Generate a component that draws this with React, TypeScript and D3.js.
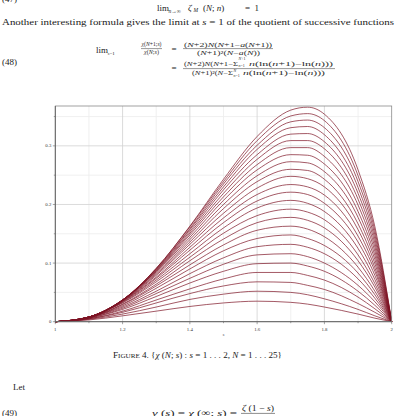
import React from 'react';
import * as d3 from 'd3';

// s positions at which each curve value was read
const sGrid = [1, 1.1, 1.2, 1.3, 1.4, 1.5, 1.6, 1.7, 1.75, 1.8, 1.9, 1.95, 2];

// chi(N; s), N = 1 ... 25 (one row per N)
const chiCurves: number[][] = [
  [0, 0.003, 0.010, 0.018, 0.026, 0.032, 0.035, 0.033, 0.030, 0.025, 0.013, 0.006, 0],
  [0, 0.004, 0.013, 0.025, 0.038, 0.047, 0.052, 0.050, 0.046, 0.039, 0.021, 0.010, 0],
  [0, 0.005, 0.016, 0.032, 0.048, 0.061, 0.068, 0.067, 0.062, 0.055, 0.031, 0.016, 0],
  [0, 0.005, 0.018, 0.037, 0.056, 0.073, 0.084, 0.084, 0.079, 0.071, 0.042, 0.022, 0],
  [0, 0.006, 0.021, 0.043, 0.066, 0.086, 0.099, 0.100, 0.095, 0.086, 0.052, 0.028, 0],
  [0, 0.006, 0.023, 0.048, 0.074, 0.098, 0.114, 0.116, 0.111, 0.100, 0.062, 0.034, 0],
  [0, 0.007, 0.025, 0.052, 0.082, 0.109, 0.128, 0.132, 0.127, 0.116, 0.073, 0.040, 0],
  [0, 0.007, 0.027, 0.057, 0.090, 0.121, 0.142, 0.148, 0.142, 0.130, 0.083, 0.046, 0],
  [0, 0.007, 0.029, 0.061, 0.097, 0.131, 0.156, 0.163, 0.158, 0.145, 0.093, 0.052, 0],
  [0, 0.007, 0.030, 0.064, 0.104, 0.141, 0.169, 0.178, 0.173, 0.160, 0.104, 0.059, 0],
  [0, 0.008, 0.032, 0.068, 0.110, 0.151, 0.181, 0.192, 0.187, 0.174, 0.114, 0.065, 0],
  [0, 0.008, 0.033, 0.071, 0.116, 0.160, 0.194, 0.207, 0.202, 0.188, 0.125, 0.072, 0],
  [0, 0.008, 0.034, 0.074, 0.122, 0.169, 0.206, 0.221, 0.217, 0.202, 0.136, 0.079, 0],
  [0, 0.008, 0.035, 0.076, 0.127, 0.177, 0.217, 0.234, 0.230, 0.216, 0.146, 0.086, 0],
  [0, 0.008, 0.035, 0.079, 0.132, 0.185, 0.228, 0.248, 0.244, 0.230, 0.157, 0.092, 0],
  [0, 0.008, 0.036, 0.081, 0.136, 0.193, 0.239, 0.260, 0.258, 0.243, 0.167, 0.099, 0],
  [0, 0.008, 0.036, 0.083, 0.140, 0.200, 0.249, 0.273, 0.271, 0.256, 0.178, 0.106, 0],
  [0, 0.008, 0.037, 0.085, 0.144, 0.207, 0.259, 0.285, 0.284, 0.269, 0.188, 0.113, 0],
  [0, 0.008, 0.037, 0.086, 0.148, 0.213, 0.268, 0.297, 0.297, 0.282, 0.199, 0.120, 0],
  [0, 0.008, 0.037, 0.087, 0.151, 0.219, 0.277, 0.309, 0.309, 0.295, 0.209, 0.127, 0],
  [0, 0.008, 0.037, 0.088, 0.154, 0.225, 0.285, 0.320, 0.321, 0.307, 0.219, 0.134, 0],
  [0, 0.008, 0.037, 0.089, 0.157, 0.230, 0.294, 0.331, 0.333, 0.319, 0.229, 0.141, 0],
  [0, 0.008, 0.037, 0.090, 0.159, 0.235, 0.301, 0.341, 0.344, 0.331, 0.239, 0.148, 0],
  [0, 0.007, 0.037, 0.091, 0.162, 0.239, 0.309, 0.351, 0.355, 0.343, 0.249, 0.155, 0],
  [0, 0.007, 0.037, 0.091, 0.163, 0.243, 0.316, 0.361, 0.366, 0.354, 0.259, 0.162, 0],
];

const xTicks = [1, 1.2, 1.4, 1.6, 1.8, 2];
const xTickLabels = ['1', '1.2', '1.4', '1.6', '1.8', '2'];
const xMinor = [1.1, 1.3, 1.5, 1.7, 1.9];
const yTicks = [0, 0.1, 0.2, 0.3];
const yTickLabels = ['0', '0.1', '0.2', '0.3'];
const yMinor = [0.05, 0.15, 0.25, 0.35];

const SERIF = '"Liberation Serif", "DejaVu Serif", serif';
const INK = '#1a1a1a';
const SMALL = '#2a2a2a';

export default function App() {
  const x = d3.scaleLinear().domain([1, 2]).range([55.3, 391.7]);
  const y = d3.scaleLinear().domain([0, 0.368]).range([321.7, 106]);
  const line = d3
    .line<number>()
    .x((_, i) => x(sGrid[i]))
    .y((d) => y(d))
    .curve(d3.curveMonotoneX);

  const x0 = x(1), x1 = x(2), y0 = y(0), y1 = y(0.368);
  const it = { fontStyle: 'italic' as const };

  return (
    <svg
      width={398}
      height={416}
      viewBox="0 0 398 416"
      style={{ position: 'fixed', left: 0, top: 0, background: '#fff' }}
      fontFamily={SERIF}
      fill={INK}
    >
      <rect x={0} y={0} width={398} height={416} fill="#fff" />

      {/* ---- text above the figure ---- */}
      <text x={2} y={2} fontSize={9}>(47)</text>
      <text x={157} y={10.5} fontSize={9}>lim</text>
      <text x={168.5} y={12.5} fontSize={5.5}><tspan {...it}>n</tspan>→∞</text>
      <text x={188} y={10.5} fontSize={9} {...it}>ζ</text>
      <text x={193.5} y={12} fontSize={5.5} {...it}>M</text>
      <text x={203} y={10.5} fontSize={9}>(<tspan {...it}>N</tspan>; <tspan {...it}>n</tspan>)</text>
      <text x={245} y={10.5} fontSize={9}>=</text>
      <text x={254.5} y={10.5} fontSize={9}>1</text>

      <text x={2} y={24.5} fontSize={9} textLength={392} lengthAdjust="spacingAndGlyphs">
        Another interesting formula gives the limit at <tspan {...it}>s</tspan> = 1 of the quotient of successive functions
      </text>

      {/* equation (48) */}
      <text x={2} y={64.5} fontSize={9}>(48)</text>
      <text x={96} y={52.5} fontSize={9}>lim</text>
      <text x={107.5} y={54.8} fontSize={5}><tspan {...it}>s</tspan>=1</text>
      <text x={141.5} y={46.3} fontSize={6} fill={SMALL} textLength={20} lengthAdjust="spacingAndGlyphs">
        <tspan {...it}>χ</tspan>(<tspan {...it}>N</tspan>+1;<tspan {...it}>s</tspan>)
      </text>
      <line x1={141} x2={162} y1={48.6} y2={48.6} stroke={INK} strokeWidth={0.45} />
      <text x={144} y={54.4} fontSize={6} fill={SMALL} textLength={15} lengthAdjust="spacingAndGlyphs">
        <tspan {...it}>χ</tspan>(<tspan {...it}>N</tspan>;<tspan {...it}>s</tspan>)
      </text>

      <text x={171.5} y={52} fontSize={9}>=</text>
      <text x={184} y={46.5} fontSize={6} fill={SMALL} textLength={88} lengthAdjust="spacingAndGlyphs">
        (<tspan {...it}>N</tspan>+2)<tspan {...it}>N</tspan>(<tspan {...it}>N</tspan>+1−<tspan {...it}>a</tspan>(<tspan {...it}>N</tspan>+1))
      </text>
      <line x1={183} x2={273} y1={48.6} y2={48.6} stroke={INK} strokeWidth={0.45} />
      <text x={197} y={55} fontSize={6} fill={SMALL} textLength={63} lengthAdjust="spacingAndGlyphs">
        (<tspan {...it}>N</tspan>+1)²(<tspan {...it}>N</tspan>−<tspan {...it}>a</tspan>(<tspan {...it}>N</tspan>))
      </text>

      <text x={171.5} y={71.2} fontSize={9}>=</text>
      <text x={184} y={65.6} fontSize={6} fill={SMALL} textLength={54} lengthAdjust="spacingAndGlyphs">
        (<tspan {...it}>N</tspan>+2)<tspan {...it}>N</tspan>(<tspan {...it}>N</tspan>+1−Σ
      </text>
      <text x={238.5} y={60.2} fontSize={4} fill={SMALL}><tspan {...it}>N</tspan>+1</text>
      <text x={238.5} y={67.4} fontSize={4} fill={SMALL}><tspan {...it}>n</tspan>=1</text>
      <text x={249} y={65.6} fontSize={6} fill={SMALL} textLength={84} lengthAdjust="spacingAndGlyphs">
        <tspan {...it}>n</tspan>(ln(<tspan {...it}>n</tspan>+1)−ln(<tspan {...it}>n</tspan>)))
      </text>
      <line x1={183} x2={335} y1={68.6} y2={68.6} stroke={INK} strokeWidth={0.45} />
      <text x={192} y={75.2} fontSize={6} fill={SMALL} textLength={41} lengthAdjust="spacingAndGlyphs">
        (<tspan {...it}>N</tspan>+1)²(<tspan {...it}>N</tspan>−Σ
      </text>
      <text x={233.5} y={71.6} fontSize={4} fill={SMALL} {...it}>N</text>
      <text x={233.5} y={77} fontSize={4} fill={SMALL}><tspan {...it}>n</tspan>=1</text>
      <text x={243} y={75.2} fontSize={6} fill={SMALL} textLength={82} lengthAdjust="spacingAndGlyphs">
        <tspan {...it}>n</tspan>(ln(<tspan {...it}>n</tspan>+1)−ln(<tspan {...it}>n</tspan>)))
      </text>

      {/* ---- chart ---- */}
      <g>
        {xMinor.map((v) => (
          <line key={'xm' + v} x1={x(v)} x2={x(v)} y1={y0} y2={y1} stroke="#ececec" strokeWidth={0.8} />
        ))}
        {yMinor.map((v) => (
          <line key={'ym' + v} x1={x0} x2={x1} y1={y(v)} y2={y(v)} stroke="#ececec" strokeWidth={0.8} />
        ))}
        {xTicks.slice(1, -1).map((v) => (
          <line key={'xg' + v} x1={x(v)} x2={x(v)} y1={y0} y2={y1} stroke="#d2d2d2" strokeWidth={0.8} />
        ))}
        {yTicks.slice(1).map((v) => (
          <line key={'yg' + v} x1={x0} x2={x1} y1={y(v)} y2={y(v)} stroke="#d2d2d2" strokeWidth={0.8} />
        ))}

        {chiCurves.map((row, i) => (
          <path key={'c' + i} d={line(row) || ''} fill="none" stroke="#7c1224" strokeWidth={0.7} />
        ))}

        <rect x={x0} y={y1} width={x1 - x0} height={y0 - y1} fill="none" stroke="#8a8a8a" strokeWidth={0.8} />
        <line x1={x0} x2={x1} y1={y0} y2={y0} stroke="#666" strokeWidth={1} />
        <line x1={x0} x2={x0} y1={y0} y2={y1} stroke="#666" strokeWidth={1} />

        {yTicks.map((v, i) => (
          <g key={'yt' + v}>
            <line x1={x0 - 2.5} x2={x0} y1={y(v)} y2={y(v)} stroke="#666" strokeWidth={0.6} />
            <text x={x0 - 4} y={y(v) + 1.6} fontSize={4.8} textAnchor="end" fill="#333">{yTickLabels[i]}</text>
          </g>
        ))}
        {yMinor.map((v) => (
          <line key={'ymt' + v} x1={x0 - 1.5} x2={x0} y1={y(v)} y2={y(v)} stroke="#666" strokeWidth={0.6} />
        ))}
        {xTicks.map((v, i) => (
          <g key={'xt' + v}>
            <line x1={x(v)} x2={x(v)} y1={y0} y2={y0 + 2.5} stroke="#666" strokeWidth={0.6} />
            <text x={x(v)} y={y0 + 9.3} fontSize={4.8} textAnchor="middle" fill="#333">{xTickLabels[i]}</text>
          </g>
        ))}
        {xMinor.map((v) => (
          <line key={'xmt' + v} x1={x(v)} x2={x(v)} y1={y0} y2={y0 + 1.5} stroke="#666" strokeWidth={0.6} />
        ))}
        <text x={(x0 + x1) / 2} y={y0 + 14} fontSize={4.8} textAnchor="middle" fill="#333" {...it}>s</text>
      </g>

      {/* ---- caption and text below ---- */}
      <text x={113} y={358} fontSize={9} textLength={169} lengthAdjust="spacingAndGlyphs">
        F<tspan fontSize={7}>IGURE</tspan> 4.  {'{'}<tspan {...it}>χ</tspan> (<tspan {...it}>N</tspan>; <tspan {...it}>s</tspan>) : <tspan {...it}>s</tspan> = 1 . . . 2, <tspan {...it}>N</tspan> = 1 . . . 25{'}'}
      </text>

      <text x={13} y={390} fontSize={9}>Let</text>

      <text x={2} y={415.5} fontSize={9}>(49)</text>
      <text x={152} y={415.5} fontSize={9} textLength={85} lengthAdjust="spacingAndGlyphs">
        <tspan {...it}>ν</tspan> (<tspan {...it}>s</tspan>) = <tspan {...it}>χ</tspan> (∞; <tspan {...it}>s</tspan>) =
      </text>
      <text x={242} y={410.5} fontSize={9} textLength={32} lengthAdjust="spacingAndGlyphs">
        <tspan {...it}>ζ</tspan> (1 − <tspan {...it}>s</tspan>)
      </text>
      <line x1={241} x2={275} y1={413.4} y2={413.4} stroke={INK} strokeWidth={0.5} />
      <text x={249} y={422.5} fontSize={9}>
        <tspan {...it}>ζ</tspan> (<tspan {...it}>s</tspan>)
      </text>
    </svg>
  );
}
